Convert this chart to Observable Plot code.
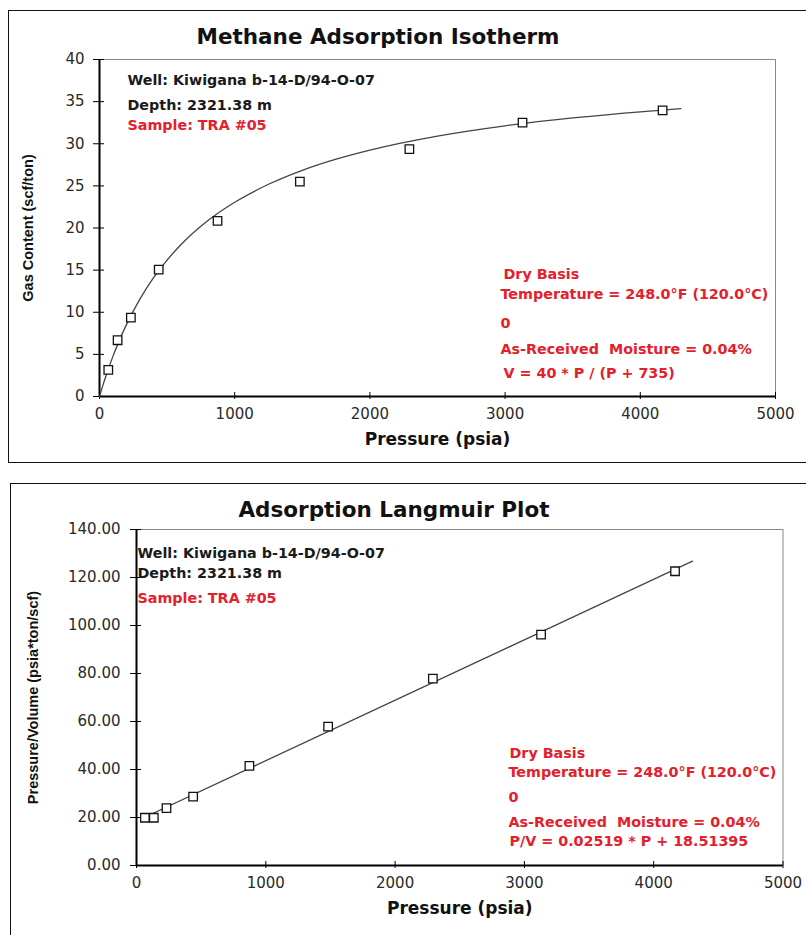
<!DOCTYPE html>
<html>
<head>
<meta charset="utf-8">
<script src="https://cdn.jsdelivr.net/npm/d3@7"></script>
<script src="https://cdn.jsdelivr.net/npm/@observablehq/plot@0.6"></script>
<style>
  html, body { margin: 0; padding: 0; background: #fff; }
  #page { position: relative; width: 806px; height: 935px; overflow: hidden; background: #fff; }
  .panel { position: absolute; border: 1.5px solid #111; box-sizing: border-box; }
  .title { position: absolute; font-family: "DejaVu Sans", sans-serif; font-weight: bold; font-size: 21.5px;
           line-height: 1; color: #111; white-space: nowrap; transform: translateX(-50%); }
  .chart { position: absolute; left: 0; }
  svg text { white-space: pre; }
  g[aria-label="y-axis label"] text, g[aria-label="x-axis label"] text {
    font-family: "Liberation Sans", Arial, sans-serif; font-weight: bold; fill: #111;
  }
  g[aria-label="y-axis label"] text { font-size: 14.5px; }
  g[aria-label="x-axis label"] text { font-size: 17px; font-family: "DejaVu Sans", sans-serif; }
</style>
</head>
<body>
<div id="page"></div>
<script>
// ---------- data ----------
const pressure = [65, 134, 232, 438, 873, 1482, 2292, 3129, 4165];
const gasContent = [3.17, 6.68, 9.37, 15.06, 20.84, 25.5, 29.37, 32.5, 33.97];
const pressureOverVolume = [19.9, 19.9, 23.9, 28.7, 41.5, 57.9, 77.9, 96.2, 122.6];

// fitted isotherm curve as drawn
const isothermCurveP = [0, 25, 50, 100, 150, 200, 300, 400, 500, 600, 800, 1000, 1250, 1500, 1750, 2000, 2500, 3000, 3500, 4000, 4300];
const isothermCurveV = [0, 1.32, 2.55, 4.79, 6.78, 8.56, 11.59, 14.10, 16.19, 17.98, 20.85, 23.05, 25.19, 26.85, 28.17, 29.25, 30.91, 32.13, 33.06, 33.79, 34.16];

// fitted Langmuir line as drawn (end points)
const langmuirLineP = [60, 4300];
const langmuirLinePV = [20.0, 126.8];

const pressureTicks = [0, 1000, 2000, 3000, 4000, 5000];
const gasTicks = [0, 5, 10, 15, 20, 25, 30, 35, 40];
const pvTicks = [0, 20, 40, 60, 80, 100, 120, 140];

const titles = ["Methane Adsorption Isotherm", "Adsorption Langmuir Plot"];
const xLabel = "Pressure (psia)";
const yLabels = ["Gas Content (scf/ton)", "Pressure/Volume (psia*ton/scf)"];
const wellInfo = ["Well: Kiwigana b-14-D/94-O-07", "Depth: 2321.38 m", "Sample: TRA #05"];
const conditions = ["Dry Basis", "Temperature = 248.0\u00B0F (120.0\u00B0C)", "0", "As-Received  Moisture = 0.04%"];
const equations = ["V = 40 * P / (P + 735)", "P/V = 0.02519 * P + 18.51395"];

// ---------- rendering ----------
const RED = "#e3202b";
const INK = "#1a1a1a";
const page = document.getElementById("page");

function addPanel(left, topPx, height) {
  const d = document.createElement("div");
  d.className = "panel";
  Object.assign(d.style, {left: left + "px", top: topPx + "px", width: "840px", height: height + "px"});
  page.appendChild(d);
}
function addTitle(text, cx, topPx) {
  const d = document.createElement("div");
  d.className = "title";
  d.textContent = text;
  Object.assign(d.style, {left: cx + "px", top: topPx + "px"});
  page.appendChild(d);
}

function textLine(str, dx, dy, color) {
  return Plot.text([str], {
    text: d => d, frameAnchor: "top-left", dx, dy,
    textAnchor: "start", lineAnchor: "middle",
    fill: color, fontWeight: "bold", fontSize: 14.3, fontFamily: "DejaVu Sans"
  });
}

function chart(cfg) {
  const pts = pressure.map((p, i) => ({x: p, y: cfg.yValues[i]}));
  const curve = cfg.curveX.map((p, i) => ({x: p, y: cfg.curveY[i]}));
  const info = cfg.info;
  return Plot.plot({
    width: 806, height: cfg.height,
    marginLeft: cfg.ml, marginRight: cfg.mr, marginTop: cfg.mt, marginBottom: cfg.mb,
    style: {fontFamily: "DejaVu Sans", fontSize: "15px", color: "#2a2a2a", background: "transparent"},
    x: {domain: [0, 5000]},
    y: {domain: cfg.yDomain},
    marks: [
      Plot.frame({stroke: "#8a8a8a", strokeWidth: 1}),
      Plot.axisX({ticks: pressureTicks, tickSize: 3, tickPadding: cfg.xPad, tickFormat: "d",
                  label: xLabel, labelAnchor: "center", labelArrow: "none", labelOffset: cfg.xLabelOffset, stroke: "#000"}),
      Plot.axisX({ticks: pressureTicks, tickSize: -4, tickFormat: () => "", label: null, stroke: "#000"}),
      Plot.axisY({ticks: cfg.yTicks, tickSize: 6, tickPadding: cfg.yPad, tickFormat: cfg.yFormat,
                  label: cfg.yLabel, labelAnchor: "center", labelArrow: "none", labelOffset: cfg.yLabelOffset, stroke: "#000"}),
      Plot.axisY({ticks: cfg.yTicks, tickSize: -5, tickFormat: () => "", label: null, stroke: "#000"}),
      Plot.ruleX([0], {stroke: "#000", strokeWidth: 2}),
      Plot.ruleY([0], {stroke: "#000", strokeWidth: 2}),
      Plot.line(curve, {x: "x", y: "y", curve: cfg.curveType, stroke: "#444", strokeWidth: 1.3}),
      Plot.dot(pts, {x: "x", y: "y", symbol: "square", r: 4.8, fill: "white", stroke: "#111", strokeWidth: 1.3}),
      textLine(wellInfo[0], info.wx, info.w0, INK),
      textLine(wellInfo[1], info.wx, info.w1, INK),
      textLine(wellInfo[2], info.wx, info.w2, RED),
      textLine(conditions[0], info.cx0, info.c0, RED),
      textLine(conditions[1], info.cx, info.c1, RED),
      textLine(conditions[2], info.cx, info.c2, RED),
      textLine(conditions[3], info.cx, info.c3, RED),
      textLine(cfg.equation, info.cx0, info.c4, RED)
    ]
  });
}

// panel borders
addPanel(8, 10, 453);
addPanel(10, 483, 600);

// top chart
const isothermChart = chart({
  height: 470, ml: 99, mr: 31, mt: 59, mb: 74,
  yValues: gasContent, curveX: isothermCurveP, curveY: isothermCurveV, curveType: "monotone-x",
  yDomain: [0, 40], yTicks: gasTicks, yFormat: "d", yLabel: yLabels[0],
  xPad: 9, yPad: 9, xLabelOffset: 48, yLabelOffset: 77,
  equation: equations[0],
  info: {wx: 28, w0: 21, w1: 46, w2: 66, cx0: 404, cx: 401, c0: 215, c1: 235, c2: 264, c3: 290, c4: 314}
});
isothermChart.classList.add("chart");
isothermChart.style.top = "0px";
page.appendChild(isothermChart);

// bottom chart
const langmuirChart = chart({
  height: 465, ml: 136, mr: 23.5, mt: 59, mb: 70,
  yValues: pressureOverVolume, curveX: langmuirLineP, curveY: langmuirLinePV, curveType: "linear",
  yDomain: [0, 140], yTicks: pvTicks, yFormat: ".2f", yLabel: yLabels[1],
  xPad: 9, yPad: 10, xLabelOffset: 48, yLabelOffset: 109,
  equation: equations[1],
  info: {wx: 1, w0: 24, w1: 44, w2: 69, cx0: 373, cx: 372, c0: 224, c1: 243, c2: 268, c3: 293, c4: 312}
});
langmuirChart.classList.add("chart");
langmuirChart.style.top = "470px";
page.appendChild(langmuirChart);

addTitle(titles[0], 378, 26);
addTitle(titles[1], 394, 499);
</script>
</body>
</html>
